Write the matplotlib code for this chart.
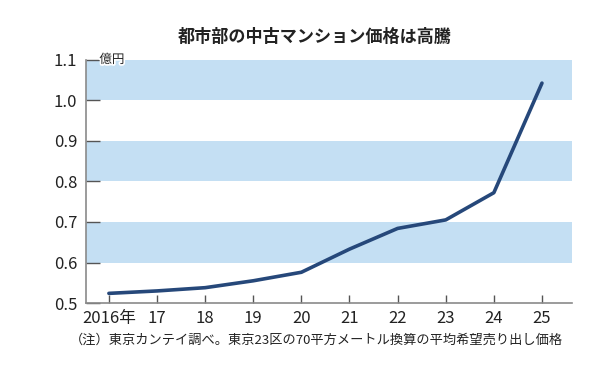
import matplotlib
matplotlib.use("Agg")
import matplotlib.pyplot as plt
import matplotlib.patheffects as pe

plt.rcParams['font.family'] = ['Noto Sans CJK JP', 'DejaVu Sans']
narrow = ['Liberation Sans Narrow', 'Noto Sans CJK JP']

years = [2016, 2017, 2018, 2019, 2020, 2021, 2022, 2023, 2024, 2025]
year_labels = ['2016年', '17', '18', '19', '20', '21', '22', '23', '24', '25']
prices = [0.524, 0.530, 0.538, 0.555, 0.576, 0.633, 0.684, 0.705, 0.772, 1.042]
bands = [(0.6, 0.7), (0.8, 0.9), (1.0, 1.1)]
y_ticks = [0.5, 0.6, 0.7, 0.8, 0.9, 1.0, 1.1]

title = '都市部の中古マンション価格は高騰'
unit = '億円'
note = '（注）東京カンテイ調べ。東京23区の70平方メートル換算の平均希望売り出し価格'

fig = plt.figure(figsize=(6, 3.77), dpi=100)
ax = fig.add_axes([0.143, 0.196, 0.81, 0.646])

for lo, hi in bands:
    ax.axhspan(lo, hi, color='#c4dff3', lw=0, zorder=0)

ax.plot(years, prices, color='#26487a', lw=2.6, solid_capstyle='round', zorder=3)

ax.set_xlim(2015.52, 2025.62)
ax.set_ylim(0.5, 1.1)
ax.set_xticks(years)
ax.set_xticklabels(year_labels, family=narrow, fontsize=12)
ax.set_yticks(y_ticks)
ax.set_yticklabels([f'{v:.1f}' for v in y_ticks], family=narrow, fontsize=12)

for s in ['top', 'right']:
    ax.spines[s].set_visible(False)
for s in ['left', 'bottom']:
    ax.spines[s].set_color('#8a8a8a')
    ax.spines[s].set_linewidth(1.2)

ax.tick_params(axis='y', direction='in', length=10, width=1, color='#555555',
               pad=6, labelcolor='#222222')
ax.tick_params(axis='x', direction='in', length=6, width=1, color='#555555',
               pad=5, labelcolor='#222222')

ax.text(0.028, 1.0, unit, transform=ax.transAxes, fontsize=9, color='#222222',
        ha='left', va='center', zorder=4,
        path_effects=[pe.withStroke(linewidth=2.5, foreground='white')])

fig.text(0.525, 0.902, title, fontsize=12.3, fontweight='bold', ha='center',
         va='center', color='#222222')
fig.text(0.527, 0.098, note, fontsize=9.5, ha='center', va='center', color='#222222')

fig.savefig('out.png', dpi=100, facecolor='white')
